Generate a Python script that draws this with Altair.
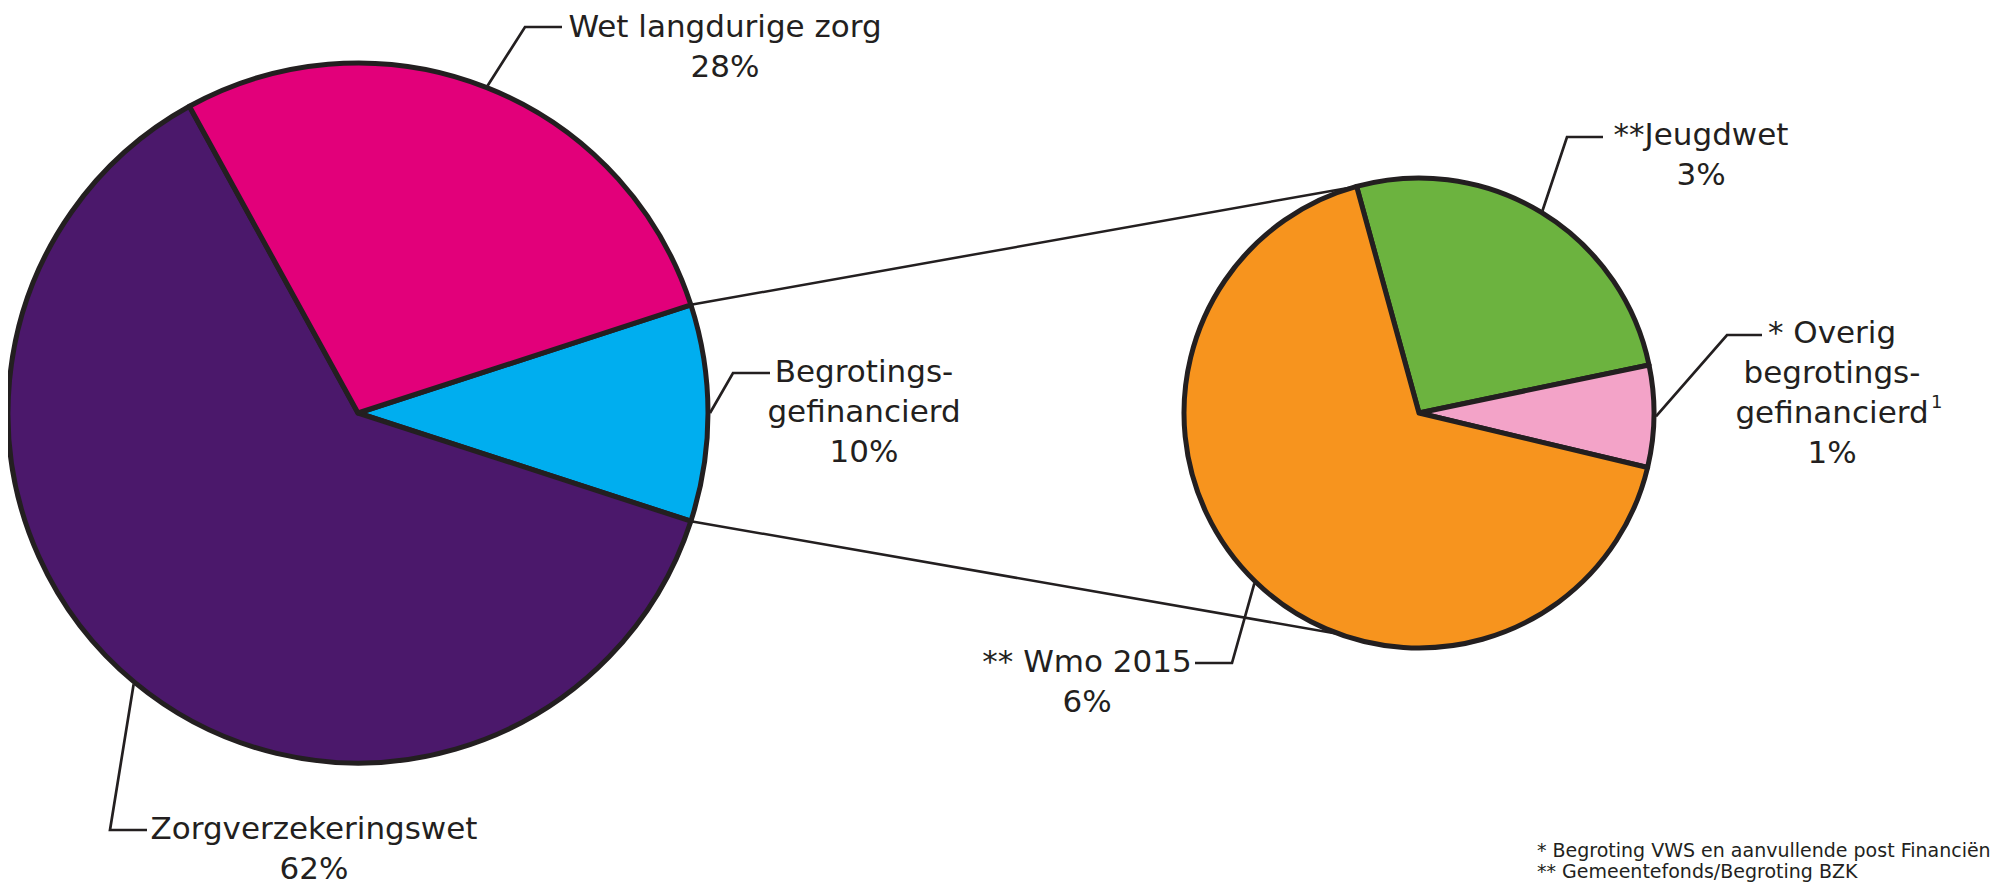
import math
import pandas as pd
import altair as alt

# ---------------- data ----------------
main_labels = ["Begrotingsgefinancierd", "Zorgverzekeringswet", "Wet langdurige zorg"]
main_display = ["Begrotings-\ngefinancierd", "Zorgverzekeringswet", "Wet langdurige zorg"]
main_values = [10, 62, 28]
main_pct = ["10%", "62%", "28%"]
main_colors = ["#00aeef", "#4b186b", "#e2007a"]

sub_labels = ["Jeugdwet", "Overig begrotingsgefinancierd", "Wmo 2015"]
sub_display = ["**Jeugdwet", "* Overig\nbegrotings-\ngefinancierd", "** Wmo 2015"]
sub_values = [2.6, 0.7, 6.7]
sub_pct = ["3%", "1%", "6%"]
sub_colors = ["#6cb33f", "#f3a3c8", "#f7941e"]

footnotes = ["* Begroting VWS en aanvullende post Financiën", "** Gemeentefonds/Begroting BZK"]
superscript = "1"

# ---------------- layout ----------------
OFF = 8
INK = "#231f20"
MAIN_C = (358, 413)
MAIN_R = 350
MAIN_START = 72.0
SUB_C = (1419, 413)
SUB_R = 235
SUB_START = 344.6
FONT = "DejaVu Sans"
FS = 31
LH = 40

# label anchors: (text center x, first baseline y, elbow x, elbow y, end x)
label_layout = {
    "Wet langdurige zorg": (725, 37, 525, 27, 562),
    "Begrotingsgefinancierd": (864, 382, 733, 373, 770),
    "Zorgverzekeringswet": (314, 839, 110, 830, 147),
    "Jeugdwet": (1701, 145, 1567, 137, 1603),
    "Overig begrotingsgefinancierd": (1832, 343, 1727, 335, 1762),
    "Wmo 2015": (1087, 672, 1232, 663, 1195),
}


def pt(center, r, deg):
    a = math.radians(deg)
    return (center[0] + r * math.sin(a) - OFF, center[1] - r * math.cos(a) - OFF)


def slice_angles(values, start):
    tot = sum(values)
    out, acc = [], start
    for v in values:
        a0 = acc
        acc += v / tot * 360.0
        out.append((a0, acc))
    return out


main_ang = slice_angles(main_values, MAIN_START)
sub_ang = slice_angles(sub_values, SUB_START)


def pie(labels, values, colors, center, r, start):
    df = pd.DataFrame({"label": labels, "value": values, "ord": list(range(len(values)))})
    s = math.radians(start)
    return alt.Chart(df).mark_arc(
        outerRadius=r, stroke=INK, strokeWidth=5, strokeJoin="round"
    ).encode(
        theta=alt.Theta("value:Q", stack=True,
                        scale=alt.Scale(domain=[0, sum(values)], range=[s, s + 2 * math.pi],
                                        nice=False, zero=True)),
        order=alt.Order("ord:Q"),
        color=alt.Color("label:N", scale=alt.Scale(domain=labels, range=colors), legend=None),
        x=alt.value(center[0] - OFF),
        y=alt.value(center[1] - OFF),
    )


main_pie = pie(main_labels, main_values, main_colors, MAIN_C, MAIN_R, MAIN_START)
sub_pie = pie(sub_labels, sub_values, sub_colors, SUB_C, SUB_R, SUB_START)

# connectors between pies
blue0, blue1 = main_ang[0]
conn_rows = []
p1 = pt(MAIN_C, MAIN_R, blue0)
q1 = pt(SUB_C, SUB_R, sub_ang[0][0])
p2 = pt(MAIN_C, MAIN_R, blue1)
q2 = pt(SUB_C, SUB_R, 180.0)
for i, (a, b) in enumerate([(p1, q1), (p2, q2)]):
    conn_rows += [{"id": i, "ord": 0, "x": a[0], "y": a[1]},
                  {"id": i, "ord": 1, "x": b[0], "y": b[1]}]
conn_df = pd.DataFrame(conn_rows)

xs = alt.X("x:Q", scale=None, axis=None)
ys = alt.Y("y:Q", scale=None, axis=None)

connectors = alt.Chart(conn_df).mark_line(color=INK, strokeWidth=2.5).encode(
    x=xs, y=ys, detail="id:N", order="ord:Q")

# leader lines & text
lead_rows, text_rows = [], []
groups = [
    (main_labels, main_display, main_pct, main_ang, MAIN_C, MAIN_R),
    (sub_labels, sub_display, sub_pct, sub_ang, SUB_C, SUB_R),
]
k = 0
for labels, disp, pcts, angs, c, r in groups:
    for lab, d, p, (a0, a1) in zip(labels, disp, pcts, angs):
        tx, ty, ex, ey, endx = label_layout[lab]
        s = pt(c, r + 2, (a0 + a1) / 2)
        lead_rows += [{"id": k, "ord": 0, "x": s[0], "y": s[1]},
                      {"id": k, "ord": 1, "x": ex - OFF, "y": ey - OFF},
                      {"id": k, "ord": 2, "x": endx - OFF, "y": ey - OFF}]
        for i, line in enumerate(d.split("\n") + [p]):
            text_rows.append({"text": line, "x": tx - OFF, "y": ty + i * LH - OFF})
        k += 1

leaders = alt.Chart(pd.DataFrame(lead_rows)).mark_line(color=INK, strokeWidth=2.7).encode(
    x=xs, y=ys, detail="id:N", order="ord:Q")

labels_layer = alt.Chart(pd.DataFrame(text_rows)).mark_text(
    font=FONT, fontSize=FS, color=INK, align="center", baseline="alphabetic"
).encode(x=xs, y=ys, text="text:N")

sup_layer = alt.Chart(pd.DataFrame({"text": [superscript], "x": [1931 - OFF], "y": [408 - OFF]})).mark_text(
    font=FONT, fontSize=18, color=INK, align="left", baseline="alphabetic"
).encode(x=xs, y=ys, text="text:N")

foot_df = pd.DataFrame({"text": footnotes, "x": [1537 - OFF] * 2, "y": [857 - OFF, 878 - OFF]})
foot_layer = alt.Chart(foot_df).mark_text(
    font=FONT, fontSize=19, color=INK, align="left", baseline="alphabetic"
).encode(x=xs, y=ys, text="text:N")

chart = alt.layer(
    connectors, main_pie, sub_pie, leaders, labels_layer, sup_layer, foot_layer
).resolve_scale(
    theta="independent", color="independent"
).properties(
    width=1994, height=877, autosize="none", padding=0, background="white"
).configure_view(stroke=None)

chart.save("out.html", embed_options={"renderer": "svg", "actions": False})
